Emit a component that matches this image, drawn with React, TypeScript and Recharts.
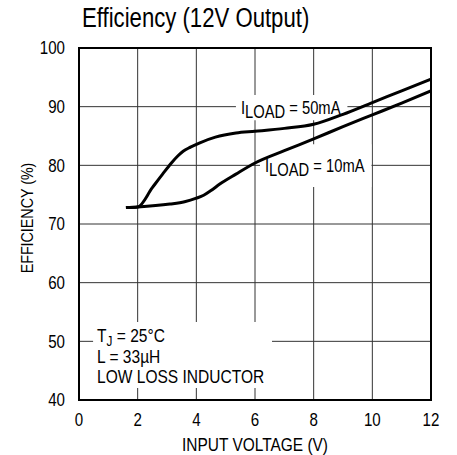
import React from "react";
import {
  CartesianGrid,
  Line,
  LineChart,
  ReferenceArea,
  XAxis,
  YAxis
} from "recharts";

// no narrow face installed, so squeeze Liberation Sans horizontally
const FONT = "'Liberation Sans', Arial, sans-serif";
const SQUEEZE = 0.84;

const xTicks = [0, 2, 4, 6, 8, 10, 12];
const yTicks = [40, 50, 60, 70, 80, 90, 100];

const voltage50 = [1.6, 2.0, 2.5, 2.85, 3.15, 3.35, 3.55, 3.8, 4.1, 4.65, 5.35, 6.0, 7.0, 8.0, 9.0, 10.0, 11.0, 12.0];
const eff50 = [72.8, 72.9, 76.2, 78.5, 80.4, 81.5, 82.4, 83.1, 83.8, 84.8, 85.5, 85.8, 86.3, 87.0, 88.7, 90.7, 92.7, 94.7];

const voltage10 = [1.6, 2.0, 3.1, 3.6, 4.0, 4.25, 4.5, 4.8, 5.35, 6.0, 7.0, 8.0, 9.0, 10.0, 11.0, 12.0];
const eff10 = [72.8, 72.9, 73.4, 73.8, 74.4, 74.9, 75.7, 76.8, 78.5, 80.4, 82.5, 84.5, 86.6, 88.6, 90.6, 92.7];

const load50 = voltage50.map((v, i) => ({ v, eff: eff50[i] }));
const load10 = voltage10.map((v, i) => ({ v, eff: eff10[i] }));

type Box = { x: number; y: number; width: number; height: number };

type NTextProps = {
  x: number;
  y: number;
  size?: number;
  anchor?: "start" | "middle" | "end";
  squeeze?: number;
  rotate?: number;
  children: React.ReactNode;
};

function NText({ x, y, size = 18, anchor = "start", squeeze = SQUEEZE, rotate = 0, children }: NTextProps) {
  const rot = rotate ? ` rotate(${rotate})` : "";
  return (
    <text
      transform={`translate(${x},${y})${rot} scale(${squeeze},1)`}
      textAnchor={anchor}
      fontSize={size}
      fontFamily={FONT}
      fill="#000"
    >
      {children}
    </text>
  );
}

function XTick({ x, y, payload }: { x?: number; y?: number; payload?: { value: number } }) {
  return (
    <NText x={x ?? 0} y={(y ?? 0) + 13} anchor="middle">
      {payload?.value}
    </NText>
  );
}

function YTick({ x, y, payload }: { x?: number; y?: number; payload?: { value: number } }) {
  return (
    <NText x={x ?? 0} y={(y ?? 0) + 6.4} anchor="end">
      {payload?.value}
    </NText>
  );
}

function LoadLabel({ viewBox, current }: { viewBox?: Box; current: string }) {
  if (!viewBox) return null;
  const { x, y, height } = viewBox;
  return (
    <NText x={x + 5} y={y + height / 2 + 6} squeeze={0.82}>
      I
      <tspan dy={4}>LOAD</tspan>
      <tspan dy={-4}>{` = ${current}`}</tspan>
    </NText>
  );
}

function ConditionsLabel({ viewBox }: { viewBox?: Box }) {
  if (!viewBox) return null;
  const { x, y } = viewBox;
  return (
    <NText x={x + 4} y={y + 20} size={18.5}>
      <tspan>T</tspan>
      <tspan dy={4} fontSize={14}>J</tspan>
      <tspan dy={-4}> = 25°C</tspan>
      <tspan x={0} dy={21}>L = 33µH</tspan>
      <tspan x={0} dy={20.5}>LOW LOSS INDUCTOR</tspan>
    </NText>
  );
}

export default function App() {
  return (
    <div style={{ position: "absolute", left: 0, top: 0, width: 457, height: 455, background: "#fff" }}>
      <div
        style={{
          position: "absolute",
          left: 82,
          top: 1,
          fontFamily: FONT,
          fontSize: 27,
          lineHeight: "34px",
          color: "#000",
          whiteSpace: "nowrap",
          transform: "scaleX(0.82)",
          transformOrigin: "0 0"
        }}
      >
        Efficiency (12V Output)
      </div>
      <LineChart width={457} height={455} margin={{ top: 48, right: 26, bottom: 0, left: 0 }}>
        <CartesianGrid stroke="#333" strokeWidth={1} />
        <XAxis
          dataKey="v"
          type="number"
          domain={[0, 12]}
          ticks={xTicks}
          allowDataOverflow
          height={55}
          tickLine={false}
          tickSize={0}
          tickMargin={13}
          axisLine={{ stroke: "#000", strokeWidth: 2 }}
          tick={<XTick />}
          label={(props: { viewBox?: Box }) => {
            const vb = props.viewBox;
            if (!vb) return null;
            return (
              <NText x={vb.x + vb.width / 2} y={vb.y + 51} anchor="middle" squeeze={0.86}>
                INPUT VOLTAGE (V)
              </NText>
            );
          }}
        />
        <YAxis
          type="number"
          domain={[40, 100]}
          ticks={yTicks}
          allowDataOverflow
          width={79}
          tickLine={false}
          tickSize={0}
          tickMargin={14}
          axisLine={{ stroke: "#000", strokeWidth: 2 }}
          tick={<YTick />}
          label={(props: { viewBox?: Box }) => {
            const vb = props.viewBox;
            if (!vb) return null;
            return (
              <NText x={vb.x + 33} y={vb.y + vb.height / 2 - 6} anchor="middle" size={17} rotate={-90}>
                EFFICIENCY (%)
              </NText>
            );
          }}
        />
        <ReferenceArea
          x1={5.35}
          x2={9.15}
          y1={87.7}
          y2={92.0}
          fill="#fff"
          fillOpacity={1}
          stroke="none"
          label={(props: { viewBox?: Box }) => <LoadLabel viewBox={props.viewBox} current="50mA" />}
        />
        <ReferenceArea
          x1={6.17}
          x2={9.97}
          y1={76.3}
          y2={83.6}
          fill="#fff"
          fillOpacity={1}
          stroke="none"
          label={(props: { viewBox?: Box }) => <LoadLabel viewBox={props.viewBox} current="10mA" />}
        />
        <ReferenceArea
          x1={0.48}
          x2={6.58}
          y1={42.05}
          y2={53.3}
          fill="#fff"
          fillOpacity={1}
          stroke="none"
          label={(props: { viewBox?: Box }) => <ConditionsLabel viewBox={props.viewBox} />}
        />
        <ReferenceArea x1={0} x2={12} y1={40} y2={100} fill="none" stroke="#000" strokeWidth={2} />
        <Line
          data={load50}
          dataKey="eff"
          type="monotone"
          stroke="#000"
          strokeWidth={3}
          dot={false}
          isAnimationActive={false}
        />
        <Line
          data={load10}
          dataKey="eff"
          type="monotone"
          stroke="#000"
          strokeWidth={3}
          dot={false}
          isAnimationActive={false}
        />
      </LineChart>
    </div>
  );
}
